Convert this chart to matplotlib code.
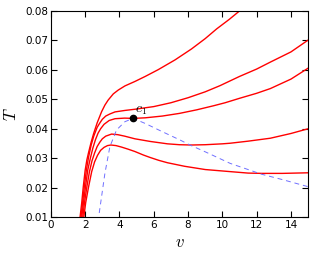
import matplotlib
matplotlib.use('Agg')
import matplotlib.pyplot as plt

plt.rcParams['mathtext.fontset'] = 'cm'

# curves (v, T), top to bottom
v1 = [1.70, 1.80, 1.89, 2.0, 2.1, 2.2, 2.35, 2.5, 2.7, 2.96, 3.15, 3.34, 3.64, 3.93, 4.32, 4.9, 5.5, 6.26, 7.24, 8.2, 9.0, 9.67, 10.4, 11.03]
T1 = [0.010, 0.0150, 0.0204, 0.0260, 0.0295, 0.0320, 0.0355, 0.0385, 0.0420, 0.0458, 0.0480, 0.0497, 0.0518, 0.0531, 0.0545, 0.0560, 0.0577, 0.0600, 0.0633, 0.0670, 0.0705, 0.0738, 0.0770, 0.0800]

v2 = [1.75, 1.85, 1.95, 2.07, 2.2, 2.35, 2.5, 2.7, 2.86, 3.0, 3.2, 3.44, 3.74, 4.32, 4.9, 6.0, 7.0, 8.0, 9.0, 9.87, 10.16, 11.0, 12.0, 12.78, 14.0, 15.0]
T2 = [0.010, 0.0150, 0.0204, 0.0260, 0.0305, 0.0345, 0.0375, 0.0405, 0.0420, 0.0432, 0.0443, 0.0450, 0.0457, 0.0462, 0.0466, 0.0475, 0.0488, 0.0505, 0.0525, 0.0546, 0.0554, 0.0577, 0.0602, 0.0625, 0.0660, 0.0700]

v3 = [1.80, 1.90, 2.02, 2.15, 2.3, 2.45, 2.6, 2.75, 2.9, 3.1, 3.4, 3.74, 4.3, 4.8, 5.5, 6.5, 7.5, 8.5, 9.5, 10.16, 11.0, 12.0, 12.8, 14.0, 15.0]
T3 = [0.010, 0.0150, 0.0204, 0.0260, 0.0300, 0.0335, 0.0363, 0.0385, 0.0400, 0.0415, 0.0428, 0.0434, 0.0436, 0.0435, 0.0437, 0.0443, 0.0452, 0.0464, 0.0478, 0.0488, 0.0503, 0.0520, 0.0536, 0.0568, 0.0605]

v4 = [1.86, 1.96, 2.1, 2.25, 2.4, 2.55, 2.7, 2.86, 3.0, 3.2, 3.54, 3.9, 4.3, 4.9, 5.8, 6.8, 7.5, 8.2, 9.0, 10.0, 10.45, 11.5, 12.8, 14.0, 15.0]
T4 = [0.010, 0.0150, 0.0204, 0.0255, 0.0292, 0.0318, 0.0340, 0.0355, 0.0366, 0.0375, 0.0382, 0.0380, 0.0375, 0.0366, 0.0357, 0.0349, 0.0346, 0.0345, 0.0346, 0.0349, 0.0351, 0.0358, 0.0368, 0.0384, 0.0400]

v5 = [1.92, 2.03, 2.2, 2.38, 2.55, 2.72, 2.9, 3.1, 3.3, 3.5, 3.8, 4.12, 4.5, 4.9, 5.4, 5.78, 6.3, 6.8, 7.8, 9.0, 10.45, 11.5, 12.3, 13.5, 15.0]
T5 = [0.010, 0.0150, 0.0204, 0.0255, 0.0288, 0.0310, 0.0327, 0.0337, 0.0343, 0.0345, 0.0343, 0.0338, 0.0331, 0.0323, 0.0311, 0.0303, 0.0293, 0.0285, 0.0273, 0.0262, 0.0255, 0.0250, 0.0249, 0.0249, 0.0251]

# dashed curve through the critical point
vd = [2.82, 3.15, 3.44, 3.83, 4.32, 4.8, 5.5, 6.5, 7.53, 8.11, 9.0, 10.45, 12.3, 13.5, 15.0]
Td = [0.0115, 0.0249, 0.0339, 0.0396, 0.0424, 0.0435, 0.0418, 0.0390, 0.0362, 0.0345, 0.0322, 0.0283, 0.0246, 0.0228, 0.0204]

c1_v, c1_T = 4.8, 0.0435

fig = plt.figure(figsize=(3.16, 2.57), dpi=100)
ax = fig.add_axes([0.161, 0.154, 0.814, 0.805])

for vv, TT in [(v1, T1), (v2, T2), (v3, T3), (v4, T4), (v5, T5)]:
    ax.plot(vv, TT, color='red', lw=1.0)

ax.plot(vd, Td, color='#7070ff', lw=0.7, dashes=(5, 4))
ax.plot([c1_v], [c1_T], 'o', color='black', ms=4.5)
ax.text(c1_v + 0.1, c1_T + 0.0004, '$c_1$', fontsize=10, va='bottom', ha='left')

ax.set_xlim(0, 15)
ax.set_ylim(0.01, 0.08)
ax.set_xticks(range(0, 16, 2))
ax.set_yticks([0.01, 0.02, 0.03, 0.04, 0.05, 0.06, 0.07, 0.08])
ax.tick_params(direction='in', top=True, right=True, labelsize=7.5, length=4, pad=2)
ax.set_xlabel('$v$', fontsize=12, labelpad=2)
ax.set_ylabel('$T$', fontsize=12, labelpad=4)

fig.savefig('out.png', dpi=100)
